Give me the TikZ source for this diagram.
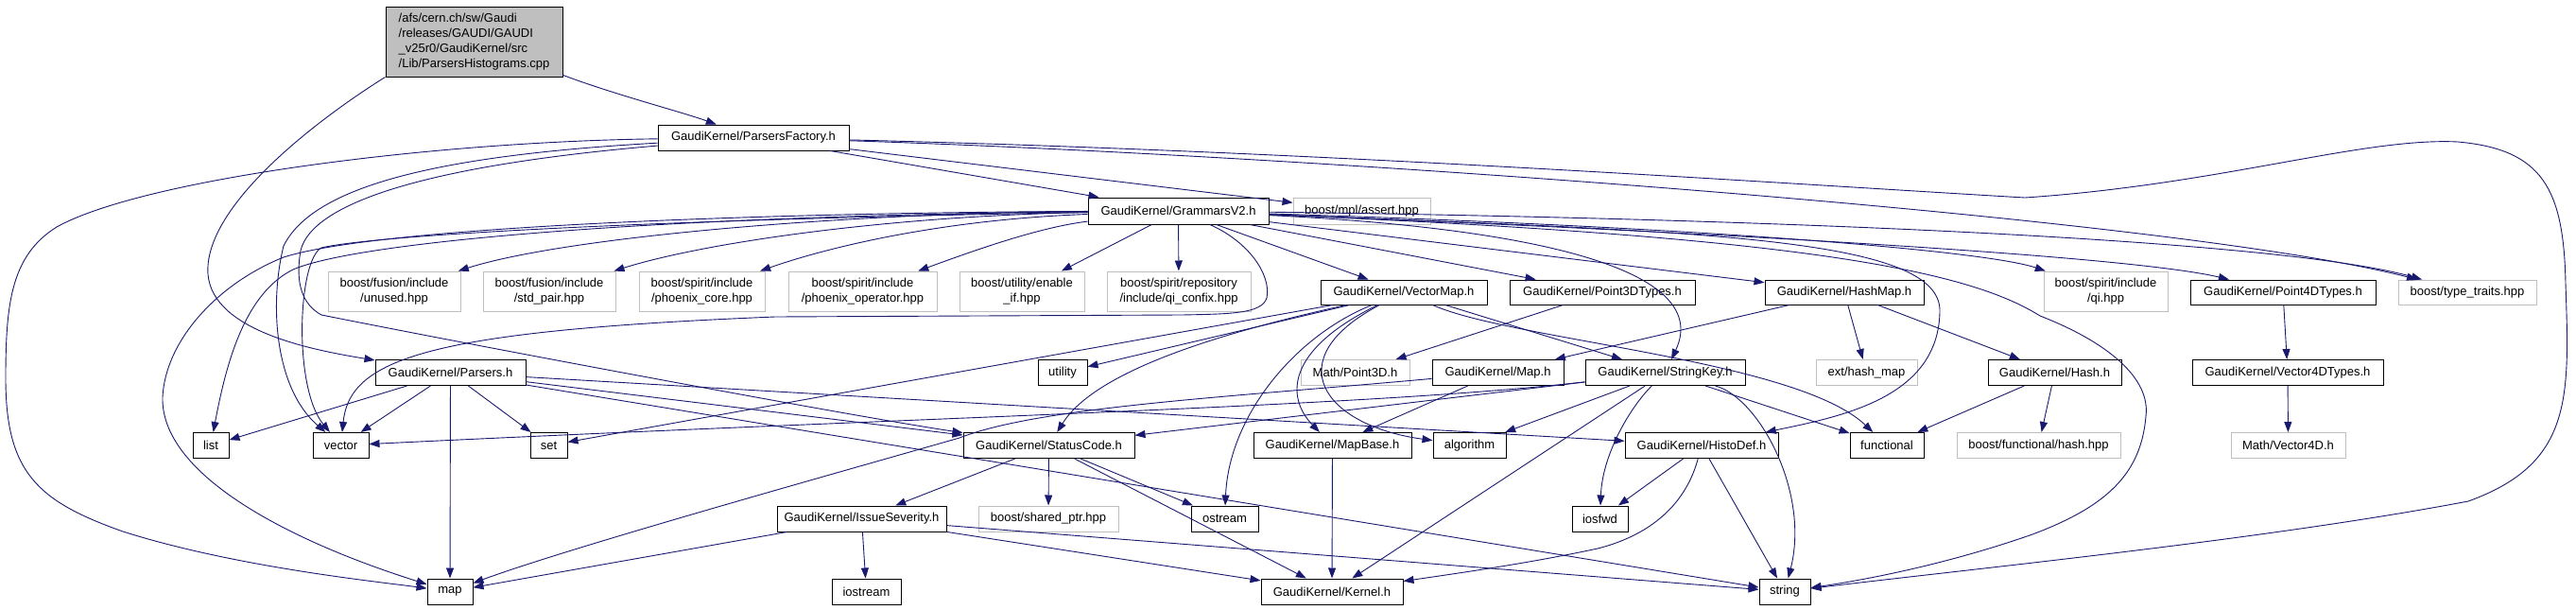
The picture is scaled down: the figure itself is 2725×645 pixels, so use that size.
\documentclass[tikz,border=0pt]{standalone}
\usepackage{fontspec}
\setmainfont{Liberation Sans}
\usetikzlibrary{arrows.meta}
\definecolor{edgeblue}{RGB}{25,25,112}
\definecolor{boxgray}{RGB}{191,191,191}
\begin{document}
\begin{tikzpicture}[x=1pt,y=-1pt,
  every node/.style={font=\fontsize{13}{16}\selectfont, inner sep=0pt, align=center, rectangle},
  hdr/.style={draw=black, fill=white, line width=1pt},
  extb/.style={draw=boxgray, fill=white, line width=1pt},
  e/.style={draw=edgeblue, line width=0.9pt, -{Triangle[length=11pt,width=8pt]}},
]
\useasboundingbox[fill=white] (0,0) rectangle (2725,645);

% ---- nodes ----
\node[hdr, fill=boxgray, minimum width=187pt, minimum height=74pt, align=left] (root) at (501.5,44)
  {/afs/cern.ch/sw/Gaudi\\/releases/GAUDI/GAUDI\\\_v25r0/GaudiKernel/src\\/Lib/ParsersHistograms.cpp};
\node[hdr, minimum width=202pt, minimum height=27pt] (pf) at (797,145.5) {GaudiKernel/ParsersFactory.h};
\node[hdr, minimum width=191pt, minimum height=28pt] (gv2) at (1246.5,223) {GaudiKernel/GrammarsV2.h};
\node[extb, minimum width=145pt, minimum height=28pt] (assert) at (1440.5,223) {boost/mpl/assert.hpp};

\node[extb, minimum width=140pt, minimum height=42pt] (unused) at (417,308) {boost/fusion/include\\/unused.hpp};
\node[extb, minimum width=140pt, minimum height=42pt] (stdpair) at (581,308) {boost/fusion/include\\/std\_pair.hpp};
\node[extb, minimum width=133pt, minimum height=42pt] (pcore) at (742.5,308) {boost/spirit/include\\/phoenix\_core.hpp};
\node[extb, minimum width=157pt, minimum height=42pt] (pop) at (912.5,308) {boost/spirit/include\\/phoenix\_operator.hpp};
\node[extb, minimum width=132pt, minimum height=42pt] (enable) at (1081,308) {boost/utility/enable\\\_if.hpp};
\node[extb, minimum width=152pt, minimum height=42pt] (confix) at (1247,308) {boost/spirit/repository\\/include/qi\_confix.hpp};
\node[hdr, minimum width=176pt, minimum height=26pt] (vmap) at (1485,309) {GaudiKernel/VectorMap.h};
\node[hdr, minimum width=196pt, minimum height=26pt] (p3dt) at (1695,309) {GaudiKernel/Point3DTypes.h};
\node[hdr, minimum width=168pt, minimum height=26pt] (hmap) at (1951,309) {GaudiKernel/HashMap.h};
\node[extb, minimum width=131pt, minimum height=42pt] (qi) at (2227.5,308) {boost/spirit/include\\/qi.hpp};
\node[hdr, minimum width=196pt, minimum height=26pt] (p4dt) at (2415,309) {GaudiKernel/Point4DTypes.h};
\node[extb, minimum width=146pt, minimum height=26pt] (tt) at (2610,309) {boost/type\_traits.hpp};

\node[hdr, minimum width=159pt, minimum height=27pt] (parsers) at (476.5,394) {GaudiKernel/Parsers.h};
\node[hdr, minimum width=52pt, minimum height=27pt] (utility) at (1124,394) {utility};
\node[extb, minimum width=115pt, minimum height=27pt] (p3d) at (1433.5,394) {Math/Point3D.h};
\node[hdr, minimum width=139pt, minimum height=27pt] (maph) at (1584.5,394) {GaudiKernel/Map.h};
\node[hdr, minimum width=169pt, minimum height=27pt] (skey) at (1761.5,394) {GaudiKernel/StringKey.h};
\node[extb, minimum width=107pt, minimum height=27pt] (exthm) at (1974.5,394) {ext/hash\_map};
\node[hdr, minimum width=141pt, minimum height=27pt] (hash) at (2173.5,394) {GaudiKernel/Hash.h};
\node[hdr, minimum width=202pt, minimum height=27pt] (v4dt) at (2420,394) {GaudiKernel/Vector4DTypes.h};

\node[hdr, minimum width=38pt, minimum height=27pt] (list) at (223,471) {list};
\node[hdr, minimum width=59pt, minimum height=27pt] (vector) at (360.5,471) {vector};
\node[hdr, minimum width=39pt, minimum height=27pt] (set) at (580.5,471) {set};
\node[hdr, minimum width=181pt, minimum height=27pt] (sc) at (1109.5,471) {GaudiKernel/StatusCode.h};
\node[hdr, minimum width=167pt, minimum height=27pt] (mapbase) at (1409.5,471) {GaudiKernel/MapBase.h};
\node[hdr, minimum width=77pt, minimum height=27pt] (algorithm) at (1554.5,471) {algorithm};
\node[hdr, minimum width=162pt, minimum height=27pt] (histodef) at (1800,471) {GaudiKernel/HistoDef.h};
\node[hdr, minimum width=78pt, minimum height=27pt] (functional) at (1996,471) {functional};
\node[extb, minimum width=173pt, minimum height=27pt] (bfhash) at (2156.5,471) {boost/functional/hash.hpp};
\node[extb, minimum width=121pt, minimum height=27pt] (v4d) at (2420.5,471) {Math/Vector4D.h};

\node[hdr, minimum width=179pt, minimum height=27pt] (issue) at (911.5,548.5) {GaudiKernel/IssueSeverity.h};
\node[extb, minimum width=148pt, minimum height=27pt] (sptr) at (1109,548.5) {boost/shared\_ptr.hpp};
\node[hdr, minimum width=71pt, minimum height=27pt] (ostream) at (1295.5,548.5) {ostream};
\node[hdr, minimum width=59pt, minimum height=27pt] (iosfwd) at (1692.5,548.5) {iosfwd};

\node[hdr, minimum width=48pt, minimum height=27pt] (map) at (476,625.5) {map};
\node[hdr, minimum width=73pt, minimum height=27pt] (iostream) at (916.5,625.5) {iostream};
\node[hdr, minimum width=150pt, minimum height=27pt] (kernel) at (1409,625.5) {GaudiKernel/Kernel.h};
\node[hdr, minimum width=54pt, minimum height=27pt] (string) at (1888,625.5) {string};

% ---- edges ----
% root
\draw[e] (root) .. controls (650,100) and (720,118) .. (pf);
\draw[e] (root.south west) .. controls (330,130) and (215,220) .. (220,290) .. controls (225,350) and (330,370) .. (parsers);

% ParsersFactory
\draw[e] (pf) -- (gv2);
\draw[e] (pf) -- (assert);
\draw[e] (pf) .. controls (1400,165) and (2300,230) .. (tt);
\draw[e] (pf) .. controls (1400,160) and (1900,195) .. (2142,209)
  .. controls (2350,195) and (2500,145) .. (2600,150)
  .. controls (2690,158) and (2712,200) .. (2714,300)
  .. controls (2718,420) and (2722,490) .. (2611,530)
  .. controls (2400,570) and (2100,600) .. (string);
\draw[e] (pf) .. controls (450,150) and (150,190) .. (60,240)
  .. controls (12,270) and (6,320) .. (6,400)
  .. controls (6,500) and (40,530) .. (130,562)
  .. controls (250,600) and (400,615) .. (map);
\draw[e] (pf) .. controls (450,165) and (330,200) .. (300,260)
  .. controls (285,320) and (290,410) .. (vector);
\draw[e] (pf) .. controls (450,175) and (330,215) .. (318,265)
  .. controls (312,300) and (320,322) .. (340,333)
  .. controls (500,365) and (900,440) .. (sc);

% GrammarsV2 - left side
\draw[e] (gv2) .. controls (800,225) and (400,240) .. (300,272)
  .. controls (230,300) and (175,360) .. (172,420)
  .. controls (170,500) and (300,570) .. (map);
\draw[e] (gv2) .. controls (700,228) and (380,255) .. (310,285)
  .. controls (260,310) and (240,380) .. (list);
\draw[e] (gv2) .. controls (700,232) and (400,248) .. (340,262)
  .. controls (315,275) and (310,410) .. (vector);
\draw[e] (gv2) .. controls (1320,255) and (1345,290) .. (1340,315)
  .. controls (1335,332) and (1300,332) .. (1250,333) -- (820,335)
  .. controls (450,350) and (370,380) .. (vector);
\draw[e] (gv2) .. controls (900,225) and (600,250) .. (unused);
\draw[e] (gv2) .. controls (950,228) and (750,255) .. (stdpair);
\draw[e] (gv2) .. controls (1000,232) and (880,260) .. (pcore);
\draw[e] (gv2) .. controls (1100,240) and (1030,265) .. (pop);
\draw[e] (gv2) -- (enable);
\draw[e] (gv2) -- (confix);
% GrammarsV2 - right side
\draw[e] (gv2) -- (vmap);
\draw[e] (gv2) -- (p3dt);
\draw[e] (gv2) -- (hmap);
\draw[e] (gv2) .. controls (1800,240) and (2100,265) .. (qi);
\draw[e] (gv2) .. controls (1800,245) and (2250,270) .. (p4dt);
\draw[e] (gv2) .. controls (1800,230) and (2400,250) .. (tt);
\draw[e] (gv2) .. controls (1600,240) and (1815,280) .. (skey);
\draw[e] (gv2) .. controls (1800,245) and (2055,250) .. (2052,330)
  .. controls (2050,420) and (1950,440) .. (histodef);
\draw[e] (gv2) .. controls (1900,250) and (2080,285) .. (2158,334)
  .. controls (2230,362) and (2275,400) .. (2270,440)
  .. controls (2265,500) and (2230,535) .. (2150,565)
  .. controls (2050,600) and (1960,615) .. (string);

% VectorMap
\draw[e] (vmap) -- (utility);
\draw[e] (vmap) -- (set);
\draw[e] (vmap) .. controls (1300,350) and (1160,390) .. (sc);
\draw[e] (vmap) .. controls (1370,355) and (1300,440) .. (ostream);
\draw[e] (vmap) .. controls (1360,370) and (1360,420) .. (mapbase);
\draw[e] (vmap) .. controls (1350,380) and (1400,450) .. (algorithm);
\draw[e] (vmap) -- (skey);
\draw[e] (vmap) .. controls (1600,360) and (1900,380) .. (functional);

% Point3DTypes, HashMap, Hash, Point4DTypes
\draw[e] (p3dt) -- (p3d);
\draw[e] (hmap) -- (maph);
\draw[e] (hmap) -- (exthm);
\draw[e] (hmap) -- (hash);
\draw[e] (hash) -- (functional);
\draw[e] (hash) -- (bfhash);
\draw[e] (p4dt) -- (v4dt);
\draw[e] (v4dt) -- (v4d);

% Map.h
\draw[e] (maph) -- (mapbase);
\draw[e] (maph) .. controls (1300,420) and (1100,430) .. (1015,463)
  .. controls (850,510) and (600,580) .. (map);

% StringKey
\draw[e] (skey) -- (sc);
\draw[e] (skey) .. controls (1450,430) and (1000,440) .. (vector);
\draw[e] (skey) -- (algorithm);
\draw[e] (skey) .. controls (1725,430) and (1695,480) .. (iosfwd);
\draw[e] (skey) -- (kernel);
\draw[e] (skey) -- (functional);
\draw[e] (skey) .. controls (1860,420) and (1915,520) .. (string);

% HistoDef
\draw[e] (histodef) -- (iosfwd);
\draw[e] (histodef) -- (string);
\draw[e] (histodef) .. controls (1780,545) and (1730,570) .. (1690,580)
  .. controls (1620,595) and (1550,605) .. (kernel);

% Parsers.h
\draw[e] (parsers) -- (list);
\draw[e] (parsers) -- (vector);
\draw[e] (parsers) -- (set);
\draw[e] (parsers) -- (map);
\draw[e] (parsers) -- (sc);
\draw[e] (parsers) -- (histodef);
\draw[e] (parsers) -- (string);

% StatusCode
\draw[e] (sc) -- (issue);
\draw[e] (sc) -- (sptr);
\draw[e] (sc) -- (ostream);
\draw[e] (sc) -- (kernel);

% IssueSeverity
\draw[e] (issue) -- (map);
\draw[e] (issue) -- (iostream);
\draw[e] (issue) -- (kernel);
\draw[e] (issue) -- (string);

% MapBase
\draw[e] (mapbase) -- (kernel);
\end{tikzpicture}
\end{document}
